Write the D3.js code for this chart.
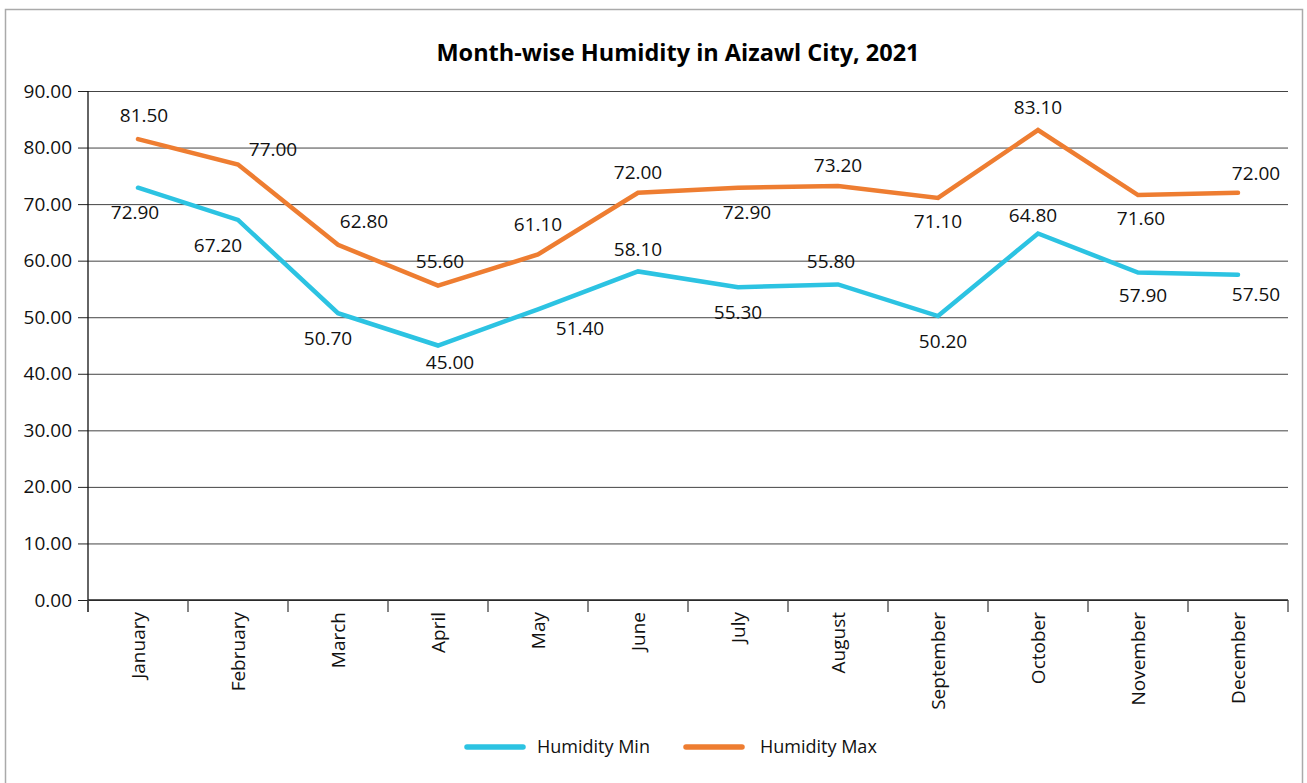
<!DOCTYPE html>
<html>
<head>
<meta charset="utf-8">
<script src="https://cdn.jsdelivr.net/npm/d3@7"></script>
<style>
  body { margin: 0; background: #fff; }
  svg { font-family: "Open Sans", sans-serif; }
</style>
</head>
<body>
<div id="chart"></div>
<script>
// data
var months = ["January", "February", "March", "April", "May", "June",
    "July", "August", "September", "October", "November", "December"];
var humidityMin = [72.9, 67.2, 50.7, 45.0, 51.4, 58.1, 55.3, 55.8, 50.2, 64.8, 57.9, 57.5];
var humidityMax = [81.5, 77.0, 62.8, 55.6, 61.1, 72.0, 72.9, 73.2, 71.1, 83.1, 71.6, 72.0];
var yTicks = [0, 10, 20, 30, 40, 50, 60, 70, 80, 90];

// where each value label sits relative to its point [dx, dy]
var maxLabelOffset = [[6, -24], [35, -15], [26, -24], [2, -24], [0, -30], [0, -21],
    [9, 24], [0, -21], [0, 23], [0, -23], [3, 23], [18, -20]];
var minLabelOffset = [[-3, 24], [-20, 25], [-10, 25], [12, 17], [42, 19], [0, -22],
    [0, 25], [-7, -23], [5, 25], [-5, -18], [5, 23], [18, 19]];

var W = 1307, H = 783;
var margin = { top: 91, right: 19, bottom: 183, left: 88 },
    width = 1288 - margin.left,
    height = 600 - margin.top;

var svg = d3.select("#chart")
    .append("svg")
    .attr("width", W)
    .attr("height", H);

// outer frame
svg.append("rect")
    .attr("x", 5.5).attr("y", 9.5)
    .attr("width", 1297).attr("height", 800)
    .attr("fill", "none")
    .attr("stroke", "#aaa")
    .attr("stroke-width", 1.5);

svg.append("text")
    .attr("x", 678).attr("y", 61)
    .attr("text-anchor", "middle")
    .style("font-size", "23.5px")
    .style("font-weight", "bold")
    .attr("fill", "#000")
    .text("Month-wise Humidity in Aizawl City, 2021");

var g = svg.append("g")
    .attr("transform", "translate(" + margin.left + "," + margin.top + ")");

var x = d3.scaleBand()
    .domain(months)
    .range([0, width])
    .padding(0);

var y = d3.scaleLinear()
    .domain([0, 90])
    .range([height, 0]);

// gridlines
g.append("g")
    .call(d3.axisLeft(y).tickValues(yTicks).tickSize(-width).tickFormat(""))
    .call(function(s) {
        s.select(".domain").remove();
        s.selectAll(".tick line").attr("stroke", "#444").attr("stroke-width", 1);
    });

// y axis
g.append("g")
    .call(d3.axisLeft(y).tickValues(yTicks).tickSize(10).tickSizeOuter(0)
        .tickFormat(d3.format(".2f")))
    .call(function(s) {
        s.select(".domain").remove();
        s.selectAll(".tick line").attr("stroke", "#222");
        s.selectAll(".tick text")
            .attr("x", -16)
            .attr("fill", "#111")
            .style("font-size", "19px")
            .style("font-family", "'Open Sans', sans-serif");
    });

g.append("line")
    .attr("x1", 0).attr("x2", 0)
    .attr("y1", 0).attr("y2", height + 12)
    .attr("stroke", "#111").attr("stroke-width", 1.3);

// x axis: ticks on the category boundaries
var bounds = months.map(function(m) { return x(m); }).concat([width]);
var xAxis = g.append("g").attr("transform", "translate(0," + height + ")");
xAxis.append("line")
    .attr("x1", 0).attr("x2", width)
    .attr("stroke", "#222").attr("stroke-width", 1.3);
xAxis.selectAll("line.tick")
    .data(bounds)
    .enter().append("line")
    .attr("class", "tick")
    .attr("x1", function(d) { return d; })
    .attr("x2", function(d) { return d; })
    .attr("y1", 0).attr("y2", 12)
    .attr("stroke", "#444").attr("stroke-width", 1.3);
xAxis.selectAll("text")
    .data(months)
    .enter().append("text")
    .attr("transform", function(d) {
        return "translate(" + (x(d) + x.bandwidth() / 2 + 7) + ",12) rotate(-90)";
    })
    .attr("text-anchor", "end")
    .attr("fill", "#111")
    .style("font-size", "19px")
    .text(function(d) { return d; });

// lines
var series = [
    { name: "Humidity Min", values: humidityMin, color: "#2cc3e2", offsets: minLabelOffset },
    { name: "Humidity Max", values: humidityMax, color: "#ee7d31", offsets: maxLabelOffset }
];

var line = d3.line()
    .x(function(d, i) { return x(months[i]) + x.bandwidth() / 2; })
    .y(function(d) { return y(d); });

series.forEach(function(s) {
    g.append("path")
        .datum(s.values)
        .attr("d", line)
        .attr("fill", "none")
        .attr("stroke", s.color)
        .attr("stroke-width", 4.5)
        .attr("stroke-linejoin", "miter")
        .attr("stroke-linecap", "round");
});

series.forEach(function(s) {
    g.append("g").selectAll("text")
        .data(s.values)
        .enter().append("text")
        .attr("x", function(d, i) { return x(months[i]) + x.bandwidth() / 2 + s.offsets[i][0]; })
        .attr("y", function(d, i) { return y(d) + s.offsets[i][1]; })
        .attr("dy", "0.36em")
        .attr("text-anchor", "middle")
        .attr("fill", "#111")
        .style("font-size", "19px")
        .text(function(d) { return d3.format(".2f")(d); });
});

// legend
var legendX = [467, 686];
var legend = svg.append("g");
series.forEach(function(s, i) {
    legend.append("line")
        .attr("x1", legendX[i]).attr("x2", legendX[i] + 56)
        .attr("y1", 747).attr("y2", 747)
        .attr("stroke", s.color)
        .attr("stroke-width", 5.5)
        .attr("stroke-linecap", "round");
    legend.append("text")
        .attr("x", legendX[i] + 70 + i * 4)
        .attr("y", 747)
        .attr("dy", "0.36em")
        .attr("fill", "#111")
        .style("font-size", "18px")
        .text(s.name);
});
</script>
</body>
</html>
